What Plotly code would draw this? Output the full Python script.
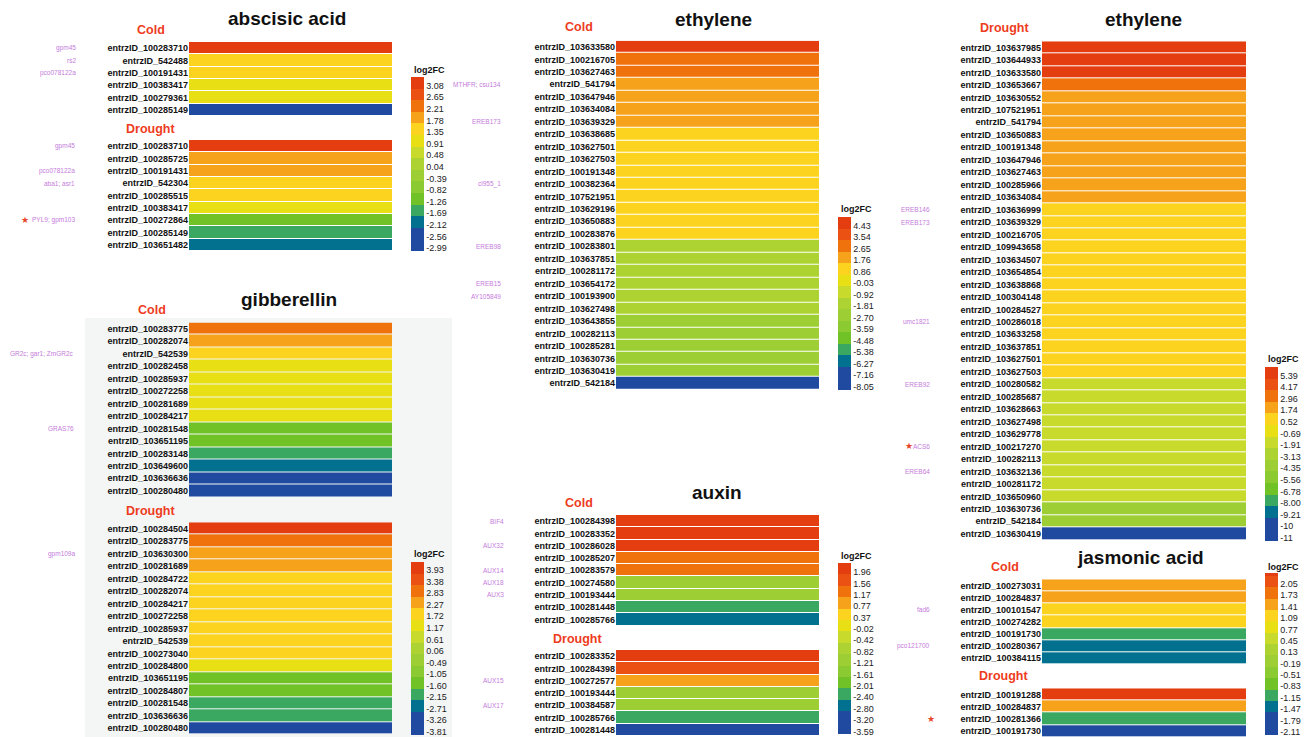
import plotly.graph_objects as go

# ---------------------------------------------------------------- data
PALETTE = ["#E43E10", "#EA5112", "#F0720D", "#F7A21B", "#FCD420", "#E8E014", "#C8DA2B",
           "#ADD332", "#9DCF35", "#8CCA31", "#70C226", "#3BA862", "#02708F", "#1F4AA0", "#1F4AA0"]

# abscisic acid
ABA_TICKS = [3.08, 2.65, 2.21, 1.78, 1.35, 0.91, 0.48, 0.04, -0.39, -0.82, -1.26, -1.69, -2.12, -2.56, -2.99]
ABA_COLD_GENES = ["entrzID_100283710", "entrzID_542488", "entrzID_100191431", "entrzID_100383417",
                  "entrzID_100279361", "entrzID_100285149"]
ABA_COLD_LFC = [3.2, 1.45, 1.40, 1.02, 0.98, -2.95]
ABA_DROUGHT_GENES = ["entrzID_100283710", "entrzID_100285725", "entrzID_100191431", "entrzID_542304",
                     "entrzID_100285515", "entrzID_100383417", "entrzID_100272864", "entrzID_100285149",
                     "entrzID_103651482"]
ABA_DROUGHT_LFC = [3.25, 1.9, 1.85, 1.5, 1.42, 1.0, -1.15, -1.6, -2.0]
ABA_COLD_NOTES = {"entrzID_100283710": "gpm45", "entrzID_542488": "rs2", "entrzID_100191431": "pco078122a"}
ABA_DROUGHT_NOTES = {"entrzID_100283710": "gpm45", "entrzID_100191431": "pco078122a",
                     "entrzID_542304": "aba1; asr1", "entrzID_100272864": "PYL9; gpm103"}
ABA_DROUGHT_STARS = ["entrzID_100272864"]

# gibberellin
GA_TICKS = [3.93, 3.38, 2.83, 2.27, 1.72, 1.17, 0.61, 0.06, -0.49, -1.05, -1.60, -2.15, -2.71, -3.26, -3.81]
GA_COLD_GENES = ["entrzID_100283775", "entrzID_100282074", "entrzID_542539", "entrzID_100282458",
                 "entrzID_100285937", "entrzID_100272258", "entrzID_100281689", "entrzID_100284217",
                 "entrzID_100281548", "entrzID_103651195", "entrzID_100283148", "entrzID_103649600",
                 "entrzID_103636636", "entrzID_100280480"]
GA_COLD_LFC = [2.95, 2.4, 1.85, 1.4, 1.35, 1.3, 1.25, 1.2, -1.45, -1.5, -2.0, -2.55, -3.1, -3.7]
GA_DROUGHT_GENES = ["entrzID_100284504", "entrzID_100283775", "entrzID_103630300", "entrzID_100281689",
                    "entrzID_100284722", "entrzID_100282074", "entrzID_100284217", "entrzID_100272258",
                    "entrzID_100285937", "entrzID_542539", "entrzID_100273040", "entrzID_100284800",
                    "entrzID_103651195", "entrzID_100284807", "entrzID_100281548", "entrzID_103636636",
                    "entrzID_100280480"]
GA_DROUGHT_LFC = [4.0, 2.9, 2.5, 2.3, 2.05, 2.0, 1.95, 1.9, 1.85, 1.8, 1.7, 1.3, -1.4, -1.55, -1.9, -2.1, -3.8]
GA_COLD_NOTES = {"entrzID_542539": "GR2c; gar1; ZmGR2c", "entrzID_100281548": "GRAS76"}
GA_DROUGHT_NOTES = {"entrzID_103630300": "gpm109a"}

# ethylene (cold)
ETC_TICKS = [4.43, 3.54, 2.65, 1.76, 0.86, -0.03, -0.92, -1.81, -2.70, -3.59, -4.48, -5.38, -6.27, -7.16, -8.05]
ETC_GENES = ["entrzID_103633580", "entrzID_100216705", "entrzID_103627463", "entrzID_541794",
             "entrzID_103647946", "entrzID_103634084", "entrzID_103639329", "entrzID_103638685",
             "entrzID_103627501", "entrzID_103627503", "entrzID_100191348", "entrzID_100382364",
             "entrzID_107521951", "entrzID_103629196", "entrzID_103650883", "entrzID_100283876",
             "entrzID_100283801", "entrzID_103637851", "entrzID_100281172", "entrzID_103654172",
             "entrzID_100193900", "entrzID_103627498", "entrzID_103643855", "entrzID_100282113",
             "entrzID_100285281", "entrzID_103630736", "entrzID_103630419", "entrzID_542184"]
ETC_LFC = [4.6, 2.9, 2.7, 2.2, 2.0, 1.9, 1.8, 1.4, 1.3, 1.2, 1.1, 1.0, 0.95, 0.9, 0.85, 0.8,
           -1.4, -1.5, -1.55, -1.6, -1.65, -1.7, -2.3, -2.4, -2.45, -2.5, -2.6, -8.0]
ETC_NOTES = {"entrzID_541794": "MTHFR; csu134", "entrzID_103639329": "EREB173", "entrzID_100382364": "cl955_1",
             "entrzID_100283801": "EREB98", "entrzID_103654172": "EREB15", "entrzID_100193900": "AY105849"}

# auxin
AUX_TICKS = [1.96, 1.56, 1.17, 0.77, 0.37, -0.02, -0.42, -0.82, -1.21, -1.61, -2.01, -2.40, -2.80, -3.20, -3.59]
AUX_COLD_GENES = ["entrzID_100284398", "entrzID_100283352", "entrzID_100286028", "entrzID_100285207",
                  "entrzID_100283579", "entrzID_100274580", "entrzID_100193444", "entrzID_100281448",
                  "entrzID_100285766"]
AUX_COLD_LFC = [2.2, 2.1, 2.0, 1.3, 1.2, -1.05, -1.1, -2.3, -2.7]
AUX_DROUGHT_GENES = ["entrzID_100283352", "entrzID_100284398", "entrzID_100272577", "entrzID_100193444",
                     "entrzID_100384587", "entrzID_100285766", "entrzID_100281448"]
AUX_DROUGHT_LFC = [2.15, 1.7, 0.9, -1.0, -1.1, -2.3, -3.5]
AUX_COLD_NOTES = {"entrzID_100284398": "BIF4", "entrzID_100286028": "AUX32", "entrzID_100283579": "AUX14",
                  "entrzID_100274580": "AUX18", "entrzID_100193444": "AUX3"}
AUX_DROUGHT_NOTES = {"entrzID_100272577": "AUX15", "entrzID_100384587": "AUX17"}

# ethylene (drought)
ETD_TICKS = [5.39, 4.17, 2.96, 1.74, 0.52, -0.69, -1.91, -3.13, -4.35, -5.56, -6.78, -8.00, -9.21, -10.43, -11.65]
ETD_TICKTEXT = ["5.39", "4.17", "2.96", "1.74", "0.52", "-0.69", "-1.91", "-3.13", "-4.35", "-5.56",
                "-6.78", "-8.00", "-9.21", "-10", "-11"]
ETD_GENES = ["entrzID_103637985", "entrzID_103644933", "entrzID_103633580", "entrzID_103653667",
             "entrzID_103630552", "entrzID_107521951", "entrzID_541794", "entrzID_103650883",
             "entrzID_100191348", "entrzID_103647946", "entrzID_103627463", "entrzID_100285966",
             "entrzID_103634084", "entrzID_103636999", "entrzID_103639329", "entrzID_100216705",
             "entrzID_109943658", "entrzID_103634507", "entrzID_103654854", "entrzID_103638868",
             "entrzID_100304148", "entrzID_100284527", "entrzID_100286018", "entrzID_103633258",
             "entrzID_103637851", "entrzID_103627501", "entrzID_103627503", "entrzID_100280582",
             "entrzID_100285687", "entrzID_103628663", "entrzID_103627498", "entrzID_103629778",
             "entrzID_100217270", "entrzID_100282113", "entrzID_103632136", "entrzID_100281172",
             "entrzID_103650960", "entrzID_103630736", "entrzID_542184", "entrzID_103630419"]
ETD_LFC = [5.9, 5.7, 5.5, 3.2, 2.5, 2.4, 2.3, 2.2, 2.1, 2.0, 1.9, 1.8, 1.6,
           1.4, 1.35, 1.3, 1.2, 1.1, 1.0, 0.95, 0.9, 0.85, 0.8, 0.7, 0.6, 0.5, 0.4,
           -1.2, -1.3, -1.35, -1.4, -1.5, -1.6, -1.7, -1.8, -1.9, -2.0, -3.6, -3.9, -11.5]
ETD_NOTES = {"entrzID_103636999": "EREB146", "entrzID_103639329": "EREB173", "entrzID_100286018": "umc1821",
             "entrzID_100280582": "EREB92", "entrzID_100217270": "ACS6", "entrzID_103632136": "EREB64"}
ETD_STARS = ["entrzID_100217270"]

# jasmonic acid
JA_TICKS = [2.05, 1.73, 1.41, 1.09, 0.77, 0.45, 0.13, -0.19, -0.51, -0.83, -1.15, -1.47, -1.79, -2.11]
JA_COLD_GENES = ["entrzID_100273031", "entrzID_100284837", "entrzID_100101547", "entrzID_100274282",
                 "entrzID_100191730", "entrzID_100280367", "entrzID_100384115"]
JA_COLD_LFC = [1.55, 1.45, 1.2, 1.1, -1.05, -1.4, -1.45]
JA_DROUGHT_GENES = ["entrzID_100191288", "entrzID_100284837", "entrzID_100281366", "entrzID_100191730"]
JA_DROUGHT_LFC = [2.33, 1.5, -1.1, -2.05]
JA_COLD_NOTES = {"entrzID_100101547": "fad6", "entrzID_100280367": "pco121700"}
JA_DROUGHT_STARS = ["entrzID_100281366"]

# ---------------------------------------------------------------- helpers
W, H = 1304, 737
FONT = "Liberation Sans, Arial, sans-serif"
RED = "#EE3C1E"
PURPLE = "#C57BDB"


def fx(px):
    return px / W


def fy(py):
    return 1 - py / H


def scale_from_ticks(ticks, top_sliver=False):
    n = len(ticks)
    s = (ticks[0] - ticks[-1]) / (n - 1)
    zmin = ticks[-1] - 0.25 * s
    edges = [zmin + k * s for k in range(n + 1)]
    if top_sliver:
        colors = list(reversed(PALETTE[1:1 + n])) + [PALETTE[0]]
        edges.append(edges[-1] + 0.25 * s)
    else:
        colors = list(reversed(PALETTE[:n]))
    zmax = edges[-1]
    cs = []
    for i, c in enumerate(colors):
        cs.append([(edges[i] - zmin) / (zmax - zmin), c])
        cs.append([(edges[i + 1] - zmin) / (zmax - zmin), c])
    cs[0][0] = 0.0
    cs[-1][0] = 1.0
    return zmin, zmax, cs


fig = go.Figure()
layout_axes = {}
annotations = []
counter = [0]


def add_block(genes, values, x0, x1, y0, y1, scale, cbar=None):
    counter[0] += 1
    n = counter[0]
    xa = "x" if n == 1 else f"x{n}"
    ya = "y" if n == 1 else f"y{n}"
    zmin, zmax, cs = scale
    tr = go.Heatmap(z=[[v] for v in values], x=["log2FC"], y=genes, xaxis=xa, yaxis=ya,
                    zmin=zmin, zmax=zmax, colorscale=cs, ygap=1, showscale=cbar is not None,
                    hovertemplate="%{y}: %{z}<extra></extra>")
    if cbar is not None:
        tr.colorbar = cbar
    fig.add_trace(tr)
    layout_axes["xaxis" if n == 1 else f"xaxis{n}"] = dict(
        domain=[fx(x0), fx(x1)], anchor=ya, showticklabels=False, showgrid=False, zeroline=False,
        ticks="", showline=False, fixedrange=True)
    layout_axes["yaxis" if n == 1 else f"yaxis{n}"] = dict(
        domain=[fy(y1), fy(y0)], anchor=xa, autorange="reversed", showgrid=False, zeroline=False,
        ticks="", showline=False, type="category", fixedrange=True,
        tickfont=dict(family=FONT, size=9, color="#111", weight="bold"))
    return ya


def colorbar(ticks, x, ytop, ybot, title_y, ticktext=None):
    annotations.append(dict(xref="paper", yref="paper", x=fx(x + 1), y=fy(title_y), text="<b>log2FC</b>",
                            showarrow=False, xanchor="left", yanchor="middle",
                            font=dict(family=FONT, size=9, color="#111")))
    return dict(x=fx(x), xanchor="left", xpad=0, y=fy(ytop), yanchor="top", ypad=0,
                len=ybot - ytop, lenmode="pixels", thickness=13, thicknessmode="pixels",
                outlinewidth=0, tickvals=ticks,
                ticktext=ticktext if ticktext else [f"{t:.2f}" for t in ticks],
                ticks="", ticklabeloverflow="allow",
                tickfont=dict(family=FONT, size=9, color="#222"))


def notes(ya, mapping, xr):
    for g, t in mapping.items():
        annotations.append(dict(xref="paper", yref=ya, x=fx(xr), y=g, text=t, showarrow=False,
                                xanchor="right", yanchor="middle",
                                font=dict(family=FONT, size=6.5, color=PURPLE)))


def stars(ya, genes, xc):
    for g in genes:
        annotations.append(dict(xref="paper", yref=ya, x=fx(xc), y=g, text="★", showarrow=False,
                                xanchor="center", yanchor="middle",
                                font=dict(family="DejaVu Sans", size=9, color="#E8462A")))


def text(x, y, t, size, color):
    annotations.append(dict(xref="paper", yref="paper", x=fx(x), y=fy(y), text=f"<b>{t}</b>",
                            showarrow=False, xanchor="center", yanchor="middle",
                            font=dict(family=FONT, size=size, color=color)))


# ---------------------------------------------------------------- panels
# abscisic acid
sc = scale_from_ticks(ABA_TICKS)
ya = add_block(ABA_COLD_GENES, ABA_COLD_LFC, 189, 392, 42, 116, sc)
notes(ya, ABA_COLD_NOTES, 78)
ya = add_block(ABA_DROUGHT_GENES, ABA_DROUGHT_LFC, 189, 392, 140, 251, sc,
               colorbar(ABA_TICKS, 411, 77, 251, 70))
notes(ya, ABA_DROUGHT_NOTES, 77)
stars(ya, ABA_DROUGHT_STARS, 25)
text(287, 18, "abscisic acid", 19, "#111")
text(150.5, 30, "Cold", 12.5, RED)
text(150, 129, "Drought", 12.5, RED)

# gibberellin
sc = scale_from_ticks(GA_TICKS)
ya = add_block(GA_COLD_GENES, GA_COLD_LFC, 189, 392, 322.5, 497, sc)
notes(ya, GA_COLD_NOTES, 76)
ya = add_block(GA_DROUGHT_GENES, GA_DROUGHT_LFC, 189, 392, 522.3, 734.5, sc,
               colorbar(GA_TICKS, 411, 561.5, 734.5, 554))
notes(ya, GA_DROUGHT_NOTES, 77)
text(289, 300, "gibberellin", 19, "#111")
text(152, 310, "Cold", 12.5, RED)
text(150, 511, "Drought", 12.5, RED)

# ethylene cold
sc = scale_from_ticks(ETC_TICKS)
ya = add_block(ETC_GENES, ETC_LFC, 616, 819, 40.7, 389.5, sc, colorbar(ETC_TICKS, 838, 216.7, 389.5, 209))
notes(ya, ETC_NOTES, 503)
text(714, 20, "ethylene", 19, "#111")
text(579, 27, "Cold", 12.5, RED)

# auxin
sc = scale_from_ticks(AUX_TICKS)
ya = add_block(AUX_COLD_GENES, AUX_COLD_LFC, 616, 819, 515, 625.5, sc)
notes(ya, AUX_COLD_NOTES, 506)
ya = add_block(AUX_DROUGHT_GENES, AUX_DROUGHT_LFC, 616, 819, 650, 736, sc,
               colorbar(AUX_TICKS, 838, 563.3, 734.5, 555.7))
notes(ya, AUX_DROUGHT_NOTES, 506)
text(717, 493, "auxin", 19, "#111")
text(578.5, 503, "Cold", 12.5, RED)
text(577.5, 639, "Drought", 12.5, RED)

# ethylene drought
sc = scale_from_ticks(ETD_TICKS)
ya = add_block(ETD_GENES, ETD_LFC, 1042, 1246, 41.3, 540, sc,
               colorbar(ETD_TICKS, 1265, 366.7, 540.5, 359, ETD_TICKTEXT))
notes(ya, ETD_NOTES, 932)
stars(ya, ETD_STARS, 909)
text(1143, 20, "ethylene", 19, "#111")
text(1004.5, 28, "Drought", 12.5, RED)

# jasmonic acid
sc = scale_from_ticks(JA_TICKS, top_sliver=True)
ya = add_block(JA_COLD_GENES, JA_COLD_LFC, 1042, 1246, 579.3, 664.3, sc)
notes(ya, JA_COLD_NOTES, 932)
ya = add_block(JA_DROUGHT_GENES, JA_DROUGHT_LFC, 1042, 1246, 688.3, 737, sc,
               colorbar(JA_TICKS, 1265, 572.6, 734.5, 566.7))
stars(ya, JA_DROUGHT_STARS, 931)
text(1140, 557, "jasmonic acid", 19, "#111")
text(1005, 567, "Cold", 12.5, RED)
text(1003.5, 676, "Drought", 12.5, RED)

fig.update_layout(
    width=W, height=H, margin=dict(l=0, r=0, t=0, b=0, pad=0),
    paper_bgcolor="white", plot_bgcolor="rgba(0,0,0,0)",
    font=dict(family=FONT), showlegend=False,
    annotations=annotations,
    shapes=[dict(type="rect", xref="paper", yref="paper", x0=fx(85), x1=fx(452), y0=fy(737), y1=fy(318),
                 fillcolor="#F4F6F6", line=dict(width=0), layer="below")],
    **layout_axes,
)

fig.write_html("out.html", config={"displayModeBar": False},
               post_script="document.body.style.margin='0';")
